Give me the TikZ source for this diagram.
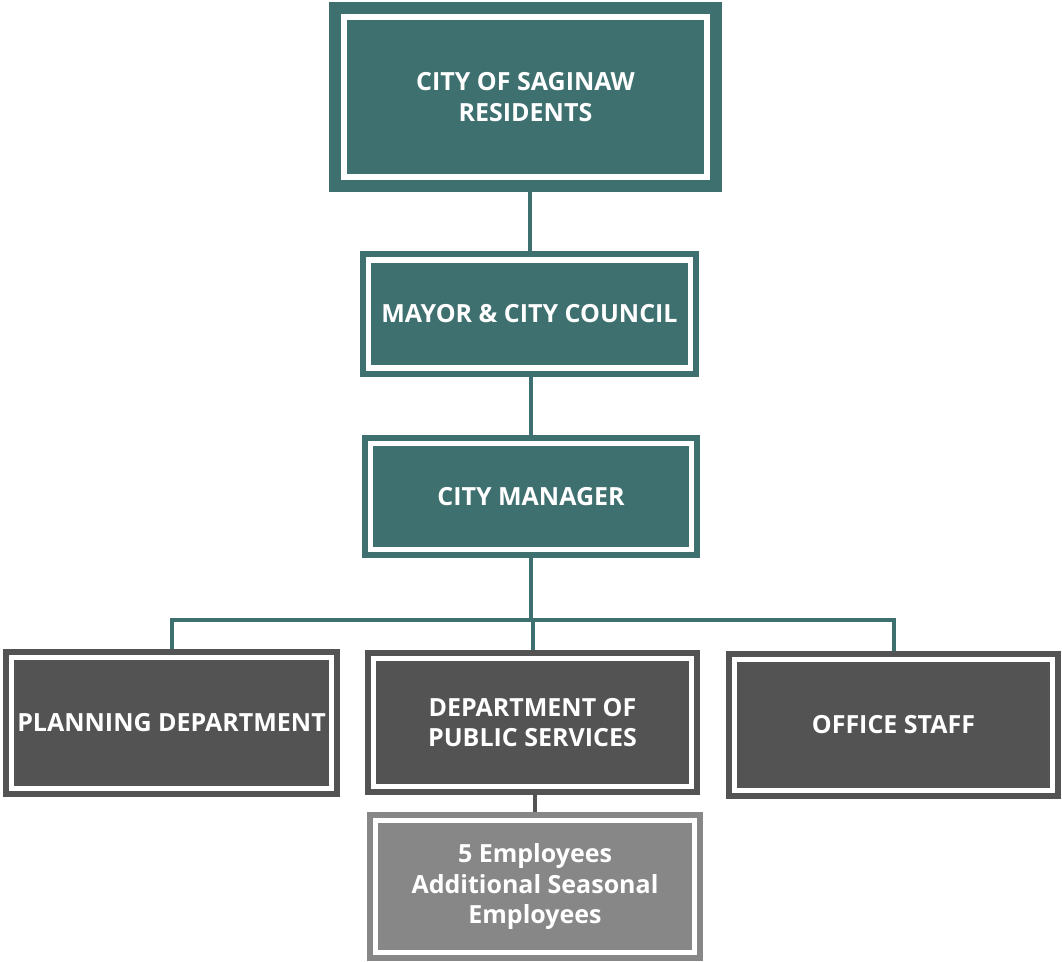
\documentclass[tikz,border=0pt]{standalone}
\usepackage{fontspec}
\setmainfont{Open Sans}
\usetikzlibrary{positioning}
\definecolor{CityTeal}{HTML}{3F7070}
\definecolor{DarkGrey}{HTML}{535353}
\definecolor{LightGrey}{HTML}{878787}
\tikzset{
  unit/.style={rectangle, fill=#1, draw=#1, double=white, double distance=5.5pt,
    line width=6pt, outer sep=8.75pt, inner sep=0pt, text=white, align=center,
    font=\fontsize{25}{30.5}\selectfont\bfseries},
  link/.style={draw=#1, line width=4pt},
  link/.default=CityTeal
}

\begin{document}
\begin{tikzpicture}[x=1pt,y=-1pt]
  \useasboundingbox (0,0) rectangle (1062,961);

  \node[unit=CityTeal, line width=12pt, double distance=6pt, outer sep=15pt,
        minimum width=363pt, minimum height=160pt] (res) at (525.5,97)
        {CITY OF SAGINAW\\RESIDENTS};
  \node[unit=CityTeal, minimum width=322pt, minimum height=108pt] (mayor) at (529.5,314)
        {MAYOR \& CITY COUNCIL};
  \node[unit=CityTeal, minimum width=321pt, minimum height=106pt] (mgr) at (531,496.5)
        {CITY MANAGER};

  \node[unit=DarkGrey, minimum width=320pt, minimum height=131pt] (plan) at (171.5,723)
        {PLANNING DEPARTMENT};
  \node[unit=DarkGrey, minimum width=318pt, minimum height=128pt] (dps) at (532.5,722.5)
        {DEPARTMENT OF\\PUBLIC SERVICES};
  \node[unit=DarkGrey, minimum width=318pt, minimum height=131pt] (office) at (893.5,725)
        {OFFICE STAFF};
  \node[unit=LightGrey, minimum width=319pt, minimum height=132pt] (emp) at (535,886.5)
        {5 Employees\\Additional Seasonal\\Employees};

  \coordinate (bus) at (532,620);

  \draw[link] (mayor.north) -- (mayor.north |- res.south);
  \draw[link] (mgr.north) -- (mgr.north |- mayor.south);
  \draw[link] (mgr.south) -- (mgr.south |- bus);
  \draw[link] (plan.north) |- (bus) -| (office.north);
  \draw[link] (dps.north) -- (dps.north |- bus);
  \draw[link=DarkGrey] (emp.north) -- (emp.north |- dps.south);
\end{tikzpicture}
\end{document}
